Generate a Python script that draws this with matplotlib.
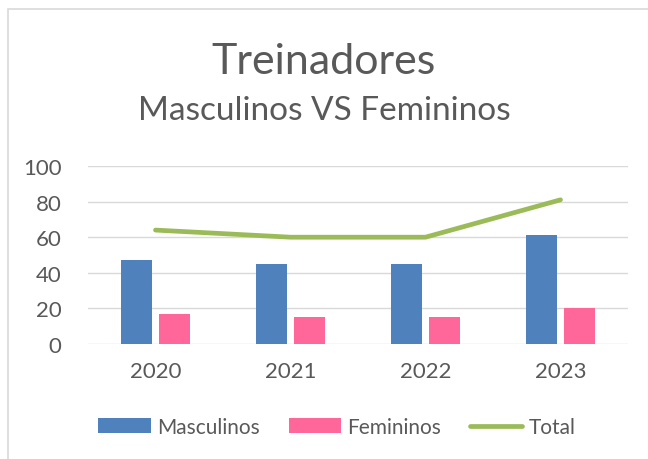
import matplotlib.pyplot as plt
import numpy as np
from matplotlib.patches import Rectangle

years = ["2020", "2021", "2022", "2023"]
masculinos = [47, 45, 45, 61]
femininos = [17, 15, 15, 20]
total = [64, 60, 60, 81]

TEXT = "#595959"
BLUE = "#4F81BD"
PINK = "#FF6699"
GREEN = "#9BBB59"
GRID = "#D9D9D9"

plt.rcParams["font.family"] = ["Lato", "DejaVu Sans"]

fig = plt.figure(figsize=(6.48, 4.60), dpi=100)
fig.patch.set_facecolor("white")
fig.add_artist(Rectangle((8 / 648, -0.1), 1.2, (460 - 10) / 460 + 0.1,
                         transform=fig.transFigure, fill=False,
                         edgecolor="#D9D9D9", linewidth=1.2))

ax = fig.add_axes([88 / 648, (460 - 345) / 460, (628 - 88) / 648, (345 - 167) / 460])
x = np.arange(len(years))
w = 0.23
ax.bar(x - 0.14, masculinos, w, color=BLUE, label="Masculinos", zorder=2)
ax.bar(x + 0.14, femininos, w, color=PINK, label="Femininos", zorder=2)
ax.plot(x, total, color=GREEN, linewidth=3.4, solid_capstyle="round", label="Total", zorder=3)

ax.set_xlim(-0.5, len(years) - 0.5)
ax.set_ylim(0, 100)
ax.set_yticks(range(0, 101, 20))
ax.set_xticks(x)
ax.set_xticklabels(years)
ax.grid(axis="y", color=GRID, linewidth=1, zorder=0)
ax.set_axisbelow(True)
for s in ax.spines.values():
    s.set_visible(False)
ax.tick_params(axis="both", length=0, labelsize=16, colors=TEXT)
ax.tick_params(axis="x", pad=12)
ax.tick_params(axis="y", pad=19)

fig.text(0.5, 1 - 62 / 460, "Treinadores", ha="center", va="center", fontsize=31, color=TEXT)
fig.text(0.5, 1 - 111 / 460, "Masculinos VS Femininos", ha="center", va="center", fontsize=24, color=TEXT)

handles, labels = ax.get_legend_handles_labels()
order = [labels.index(n) for n in ["Masculinos", "Femininos", "Total"]]
fig.legend([handles[i] for i in order], [labels[i] for i in order],
           loc="center", bbox_to_anchor=(0.52, 1 - 428 / 460), ncol=3, frameon=False,
           fontsize=15, labelcolor=TEXT, handlelength=2.5, handleheight=0.75,
           handletextpad=0.3, columnspacing=1.4)

fig.savefig("out.png", dpi=100, facecolor="white")
